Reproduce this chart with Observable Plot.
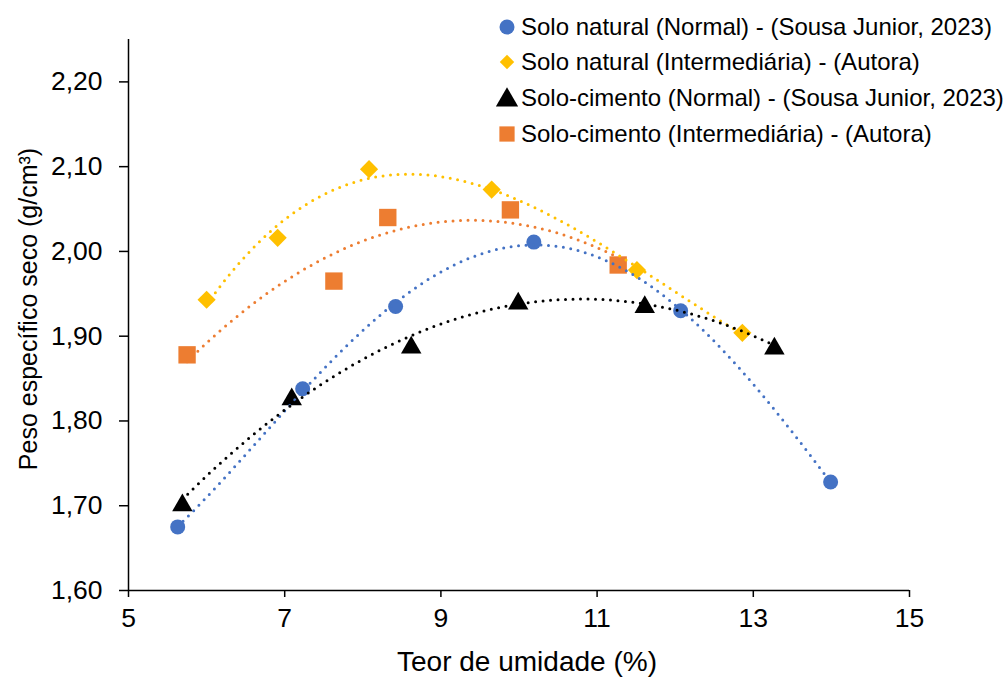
<!DOCTYPE html>
<html>
<head>
<meta charset="utf-8">
<script src="https://cdn.jsdelivr.net/npm/d3@7"></script>
<script src="https://cdn.jsdelivr.net/npm/@observablehq/plot@0.6"></script>
<style>
  html, body { margin: 0; padding: 0; background: #fff; }
  #wrap { position: relative; width: 1008px; height: 678px; font-family: "Liberation Sans", Arial, sans-serif; }
  #legend { position: absolute; left: 496px; top: 9px; color: #000; font-size: 24px; }
  #legend .row { display: flex; align-items: center; height: 35.6px; white-space: nowrap; }
  #legend svg { width: 22px; height: 22px; margin-right: 3px; flex: none; }
</style>
</head>
<body>
<div id="wrap"><div id="legend"></div></div>
<script>
// Moisture content (%) and dry unit weight (g/cm³) for each compaction series
const umidadeNatNormal = [5.63, 7.23, 8.42, 10.19, 12.07, 13.99];
const pesoNatNormal    = [1.675, 1.838, 1.935, 2.011, 1.930, 1.728];

const umidadeNatInter = [6.00, 6.91, 8.08, 9.65, 11.51, 12.86];
const pesoNatInter    = [1.943, 2.016, 2.097, 2.073, 1.978, 1.904];

const umidadeCimNormal = [5.69, 7.09, 8.62, 9.99, 11.61, 13.27];
const pesoCimNormal    = [1.704, 1.829, 1.890, 1.942, 1.938, 1.889];

const umidadeCimInter = [5.75, 7.63, 8.32, 9.89, 11.27];
const pesoCimInter    = [1.878, 1.965, 2.040, 2.049, 1.984];

const seriesNames = [
  "Solo natural (Normal) - (Sousa Junior, 2023)",
  "Solo natural (Intermediária) - (Autora)",
  "Solo-cimento (Normal) - (Sousa Junior, 2023)",
  "Solo-cimento (Intermediária) - (Autora)"
];
const seriesColors  = ["#4472C4", "#FFC000", "#000000", "#ED7D31"];
const seriesSymbols = ["circle", "diamond2", "triangle", "square"];
// polynomial order of each series' trend line
const trendOrder = [4, 3, 2, 2];

const xTicks = [5, 7, 9, 11, 13, 15];
const yTicks = [1.6, 1.7, 1.8, 1.9, 2.0, 2.1, 2.2];

const xLabel = "Teor de umidade (%)";
const yLabel = "Peso específico seco (g/cm³)";

// least-squares polynomial trend line, centred on the mean x
function polyfit(xs, ys, deg) {
  const n = deg + 1, mx = d3.mean(xs);
  const A = Array.from({length: n}, () => new Array(n + 1).fill(0));
  xs.forEach((xv, i) => {
    const t = xv - mx;
    for (let r = 0; r < n; r++) {
      for (let c = 0; c < n; c++) A[r][c] += Math.pow(t, r + c);
      A[r][n] += ys[i] * Math.pow(t, r);
    }
  });
  for (let i = 0; i < n; i++) {
    let p = i;
    for (let k = i + 1; k < n; k++) if (Math.abs(A[k][i]) > Math.abs(A[p][i])) p = k;
    [A[i], A[p]] = [A[p], A[i]];
    for (let k = i + 1; k < n; k++) {
      const f = A[k][i] / A[i][i];
      for (let c = i; c <= n; c++) A[k][c] -= f * A[i][c];
    }
  }
  const coef = new Array(n).fill(0);
  for (let i = n - 1; i >= 0; i--) {
    let s = A[i][n];
    for (let c = i + 1; c < n; c++) s -= A[i][c] * coef[c];
    coef[i] = s / A[i][i];
  }
  return x => coef.reduce((acc, a, k) => acc + a * Math.pow(x - mx, k), 0);
}

function trend(xs, ys, deg) {
  const f = polyfit(xs, ys, deg);
  const x0 = d3.min(xs), x1 = d3.max(xs);
  return d3.range(0, 201).map(i => {
    const x = x0 + (x1 - x0) * i / 200;
    return {x, y: f(x)};
  });
}

const rows = (xs, ys) => xs.map((x, i) => ({x, y: ys[i]}));

const series = [
  rows(umidadeNatNormal, pesoNatNormal),
  rows(umidadeNatInter, pesoNatInter),
  rows(umidadeCimNormal, pesoCimNormal),
  rows(umidadeCimInter, pesoCimInter)
];
const trends = [
  trend(umidadeNatNormal, pesoNatNormal, trendOrder[0]),
  trend(umidadeNatInter, pesoNatInter, trendOrder[1]),
  trend(umidadeCimNormal, pesoCimNormal, trendOrder[2]),
  trend(umidadeCimInter, pesoCimInter, trendOrder[3])
];

const markerR  = [7.5, 8.2, 7.6, 9.8];
const markerDy = [0, 0, 3, 0];

const fmt = d => d.toFixed(2).replace(".", ",");

const chart = Plot.plot({
  width: 1008,
  height: 678,
  marginLeft: 128,
  marginRight: 99,
  marginTop: 39,
  marginBottom: 88,
  style: {fontFamily: "'Liberation Sans', Arial, sans-serif", fontSize: "26.5px", color: "#000", background: "#fff"},
  x: {domain: [5, 15]},
  y: {domain: [1.6, 2.25]},
  marks: [
    Plot.axisX({ticks: xTicks, tickSize: 7, tickPadding: 11, label: null, strokeWidth: 1.5, fontSize: 26.5}),
    Plot.axisY({ticks: yTicks, tickSize: 9, tickPadding: 17, tickFormat: fmt, label: null, strokeWidth: 1.5, fontSize: 26.5}),
    Plot.ruleX([5], {stroke: "#000", strokeWidth: 1.5}),
    Plot.ruleY([1.6], {stroke: "#000", strokeWidth: 1.5}),
    ...series.map((d, i) => Plot.dot(d, {
      x: "x", y: "y", symbol: seriesSymbols[i], r: markerR[i],
      fill: seriesColors[i], stroke: "none", dy: markerDy[i]
    })),
    ...trends.map((d, i) => Plot.line(d, {
      x: "x", y: "y", stroke: seriesColors[i], strokeWidth: 3,
      strokeDasharray: "0 7.5", strokeLinecap: "round"
    })),
    Plot.text([xLabel], {frameAnchor: "bottom", dy: 72, fontSize: 28, lineAnchor: "middle", dx: 8}),
    Plot.text([yLabel], {frameAnchor: "left", textAnchor: "middle", rotate: -90, dx: -100, dy: -6, fontSize: 25, lineAnchor: "middle"})
  ]
});

const wrap = document.getElementById("wrap");
wrap.insertBefore(chart, wrap.firstChild);

// legend: symbol swatch + series name
const legend = d3.select("#legend");
seriesNames.forEach((name, i) => {
  const row = legend.append("div").attr("class", "row");
  const legendR = [7.5, 6.5, 8.2, 8.6][i];
  const sym = {circle: d3.symbolCircle, diamond2: d3.symbolDiamond2, triangle: d3.symbolTriangle, square: d3.symbolSquare}[seriesSymbols[i]];
  const svg = row.append("svg").attr("viewBox", "-11 -11 22 22");
  svg.append("path")
    .attr("d", d3.symbol(sym, Math.PI * legendR * legendR)())
    .attr("transform", i === 2 ? "translate(0,2)" : null)
    .attr("fill", seriesColors[i]);
  row.append("span").text(name);
});
</script>
</body>
</html>
